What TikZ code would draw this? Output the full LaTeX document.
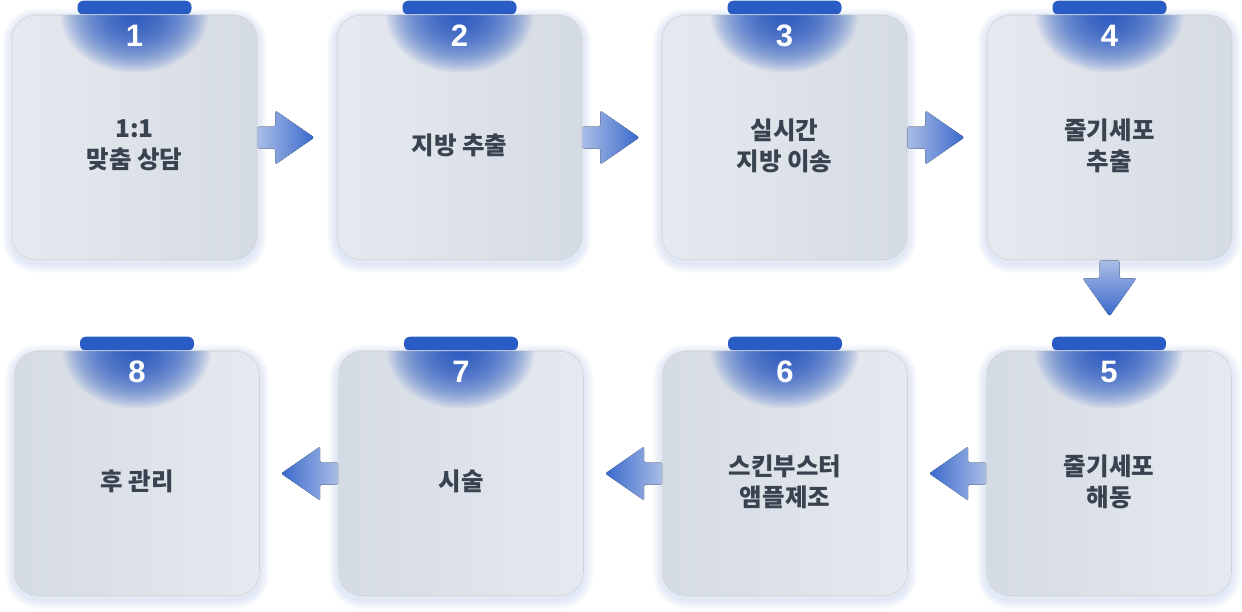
\documentclass[tikz,border=0pt]{standalone}
\usepackage{fontspec}
\newfontfamily\krfont{Noto Sans CJK KR}
\newfontfamily\numfont{Liberation Sans}
\usetikzlibrary{calc}
\definecolor{tabblue}{HTML}{2A5CC6}
\definecolor{glowblue}{HTML}{1F53C2}
\definecolor{txtc}{HTML}{39434F}
\definecolor{boxA}{HTML}{E6E9EF}
\definecolor{boxB}{HTML}{D5DBE4}
\definecolor{shadowc}{HTML}{BFD0EE}
\definecolor{arrL}{HTML}{A9BDE6}
\definecolor{arrR}{HTML}{3A69CB}
\definecolor{edgec}{HTML}{C4C9D1}
\pgfdeclarelayer{bg}
\pgfsetlayers{bg,main}
\begin{document}
\begin{tikzpicture}[x=1pt,y=-1pt,
 boxst/.style={rectangle, rounded corners=24pt, minimum width=245pt, minimum height=245pt, inner sep=0pt, draw=edgec, line width=0.6pt},
 lbl/.style={font=\krfont\bfseries\fontsize{24.5}{31}\selectfont, text=txtc, align=center},
 numst/.style={font=\numfont\bfseries\fontsize{31}{31}\selectfont, text=white, inner sep=0pt},
 tabst/.style={fill=tabblue, rounded corners=6pt},
 arrst/.style={rounded corners=1.5pt},
 glowst/.style={fill=glowblue, fill opacity=0.05}]
\begin{pgfonlayer}{bg}
\fill[white] (0,0) rectangle (1242,611);
\end{pgfonlayer}
\useasboundingbox (0,0) rectangle (1242,611);
\foreach \i/\x/\y/\lc/\rc/\txt in {
 1/134.5/137.5/boxA/boxB/{1:1\\맞춤 상담},
 2/459.5/137.5/boxA/boxB/{지방 추출},
 3/784.5/137.5/boxA/boxB/{실시간\\지방 이송},
 4/1109.5/137.5/boxA/boxB/{줄기세포\\추출},
 5/1109/473.5/boxB/boxA/{줄기세포\\해동},
 6/785/473.5/boxB/boxA/{스킨부스터\\앰플제조},
 7/461/473.5/boxB/boxA/{시술},
 8/137/473.5/boxB/boxA/{후 관리}}{
 \node[boxst, left color=\lc, right color=\rc] (b\i) at (\x,\y) {};
 \begin{pgfonlayer}{bg}
  \foreach \k in {1,...,6}
   \draw[shadowc, draw opacity=0.09, line width=\k*3pt, rounded corners=24pt] ($(b\i.south west)+(0,3)$) rectangle ($(b\i.north east)+(0,3)$);
  \fill[tabst] ($(b\i.north)+(-57,0)$) rectangle ($(b\i.north)+(57,-14)$);
 \end{pgfonlayer}
 \begin{scope}
  \clip[rounded corners=24pt] (b\i.south west) rectangle (b\i.north east);
  \foreach \r in {1,...,40}
   \fill[glowst] (b\i.north) ellipse [x radius=\r*1.85, y radius=\r*1.45];
 \end{scope}
 \draw[white!55!edgec, line width=0.6pt, rounded corners=24pt] (b\i.south west) rectangle (b\i.north east);
 \node[numst] (n\i) at ($(b\i.north)+(0,21)$) {\i};
 \node[lbl] (t\i) at ($(b\i.center)+(0,8)$) {\txt};
}
% right arrows
\foreach \a in {1,2,3}{
 \fill[arrst, left color=arrL, middle color=arrR, right color=arrR] ($(b\a.east)+(0,-11)$) -- ++(18,0) -- ++(0,-16) -- ++(39,27) -- ++(-39,27) -- ++(0,-16) -- ++(-18,0) -- cycle;
}
% down arrow
\fill[arrst, top color=arrL, middle color=arrR, bottom color=arrR] ($(b4.south)+(-10,0)$) -- ++(0,18) -- ++(-17,0) -- ++(27,38) -- ++(27,-38) -- ++(-17,0) -- ++(0,-18) -- cycle;
% left arrows
\foreach \a in {5,6,7}{
 \fill[arrst, right color=arrL, middle color=arrR, left color=arrR] ($(b\a.west)+(0,-11)$) -- ++(-18,0) -- ++(0,-16) -- ++(-39,27) -- ++(39,27) -- ++(0,-16) -- ++(18,0) -- cycle;
}
\end{tikzpicture}
\end{document}
